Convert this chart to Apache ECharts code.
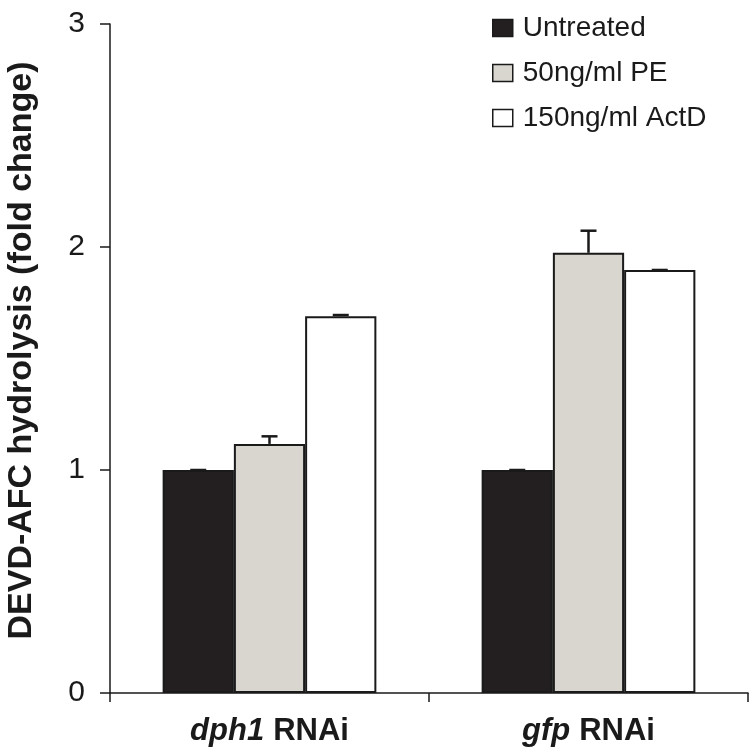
<!DOCTYPE html>
<html>
<head>
<meta charset="utf-8">
<script src="https://cdn.jsdelivr.net/npm/echarts@6/dist/echarts.min.js"></script>
<style>
html,body{margin:0;padding:0;background:#fff;}
#chart{width:750px;height:753px;}
</style>
</head>
<body>
<div id="chart"></div>
<script>
var categories = ['dph1 RNAi', 'gfp RNAi'];
var seriesNames = ['Untreated', '50ng/ml PE', '150ng/ml ActD'];
var untreated = [1.0, 1.0];
var pe = [1.117, 1.974];
var actd = [1.69, 1.897];
var untreatedErr = [0, 0];
var peErr = [0.034, 0.099];
var actdErr = [0.005, 0];
var yTicks = [0, 1, 2, 3];

var FONT = '"Liberation Sans", Arial, sans-serif';
var barColors = ['#231f20', '#d9d6d0', '#ffffff'];
var values = [untreated, pe, actd];
var errors = [untreatedErr, peErr, actdErr];
var CAT_GAP = 0.33;

var chart = echarts.init(document.getElementById('chart'), null, {renderer: 'canvas'});

var series = [];
seriesNames.forEach(function (name, i) {
  series.push({
    name: name,
    type: 'bar',
    data: values[i],
    barGap: '0%',
    barCategoryGap: (CAT_GAP * 100) + '%',
    itemStyle: {color: barColors[i], borderColor: '#1a1a1a', borderWidth: 2},
    emphasis: {disabled: true},
    z: 2
  });
});
seriesNames.forEach(function (name, i) {
  var errData = values[i].map(function (v, k) { return [k, v, errors[i][k]]; });
  series.push({
    type: 'custom',
    data: errData,
    z: 3,
    silent: true,
    renderItem: function (params, api) {
      var cat = api.value(0), v = api.value(1), e = api.value(2);
      var top = api.coord([cat, v]);
      var hi = api.coord([cat, v + e]);
      var band = api.size([1, 0])[0];
      var bw = band * (1 - CAT_GAP) / 3;
      var x = top[0] + (i - 1) * bw;
      var capW = 8;
      var style = {stroke: '#1a1a1a', lineWidth: 2.5, fill: null};
      return {
        type: 'group',
        children: [
          {type: 'line', shape: {x1: x, y1: top[1], x2: x, y2: hi[1]}, style: style},
          {type: 'line', shape: {x1: x - capW, y1: hi[1], x2: x + capW, y2: hi[1]}, style: style}
        ]
      };
    }
  });
});

chart.setOption({
  animation: false,
  backgroundColor: '#fff',
  textStyle: {fontFamily: FONT},
  grid: {left: 110, right: 2, top: 24, bottom: 60, containLabel: false, outerBoundsMode: 'none'},
  legend: {
    data: seriesNames,
    orient: 'vertical',
    icon: 'rect',
    left: 487,
    top: 9,
    itemWidth: 20,
    itemHeight: 17,
    itemGap: 17,
    itemStyle: {borderColor: '#1a1a1a', borderWidth: 1.5},
    textStyle: {fontFamily: FONT, fontSize: 28, color: '#1a1a1a', padding: [0, 0, 0, 5]},
    selectedMode: false
  },
  xAxis: {
    type: 'category',
    data: categories,
    axisLine: {lineStyle: {color: '#1a1a1a', width: 1.5}},
    axisTick: {show: true, alignWithLabel: false, length: 9, lineStyle: {color: '#1a1a1a', width: 1.5}},
    axisLabel: {
      margin: 23,
      formatter: function (val) {
        var parts = val.split(' ');
        return '{i|' + parts[0] + '}{b|' + parts.slice(1).join(' ') + '}';
      },
      rich: {
        i: {fontFamily: FONT, fontSize: 31, fontWeight: 'bold', fontStyle: 'italic', color: '#1a1a1a', padding: [0, 9, 0, 0]},
        b: {fontFamily: FONT, fontSize: 31, fontWeight: 'bold', color: '#1a1a1a'}
      }
    }
  },
  yAxis: {
    type: 'value',
    min: 0,
    max: 3,
    interval: 1,
    name: 'DEVD-AFC hydrolysis (fold change)',
    nameLocation: 'middle',
    nameGap: 71,
    nameRotate: 90,
    nameTextStyle: {fontFamily: FONT, fontSize: 34, fontWeight: 'bold', color: '#1a1a1a', padding: [0, 0, 0, 16]},
    axisLine: {show: true, lineStyle: {color: '#1a1a1a', width: 1.5}},
    axisTick: {show: true, length: 10, lineStyle: {color: '#1a1a1a', width: 1.5}},
    splitLine: {show: false},
    axisLabel: {
      margin: 25,
      fontFamily: FONT, fontSize: 30, color: '#1a1a1a',
      formatter: function (v) { return yTicks.indexOf(v) >= 0 ? String(v) : ''; }
    }
  },
  series: series
});
</script>
</body>
</html>
